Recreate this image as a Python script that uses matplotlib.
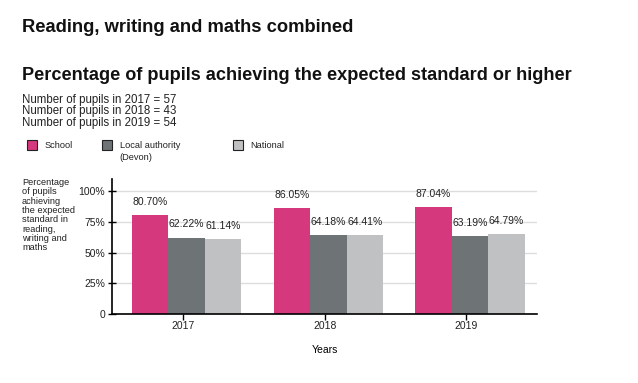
import matplotlib
matplotlib.use("Agg")
import matplotlib.pyplot as plt
from matplotlib.patches import Rectangle
import numpy as np

plt.rcParams['font.family'] = ['Liberation Sans', 'DejaVu Sans']

years = ["2017", "2018", "2019"]
series_names = ["School", "Local authority", "National"]
series_sub = ["", "(Devon)", ""]
school = [80.70, 86.05, 87.04]
local_authority = [62.22, 64.18, 63.19]
national = [61.14, 64.41, 64.79]
series = [school, local_authority, national]
colors = ["#d6387e", "#6e7375", "#c0c1c2"]
pupils = [57, 43, 54]
yticks = [0, 25, 50, 75, 100]
ytick_labels = ["0", "25%", "50%", "75%", "100%"]

W, H = 638, 383
fig = plt.figure(figsize=(W / 100, H / 100), dpi=100)

def fx(px):
    return px / W

def fy(py):
    return 1 - py / H

ax = fig.add_axes([fx(112), fy(314), fx(537) - fx(112), fy(179) - fy(314)])

x = np.arange(len(years))
bw = 0.2575
for i, (vals, col) in enumerate(zip(series, colors)):
    pos = x + (i - 1) * bw
    ax.bar(pos, vals, width=bw, color=col, zorder=2)
    for p, v in zip(pos, vals):
        ax.annotate(f"{v:.2f}%", (p, v), xytext=(0, 6.0), textcoords="offset points",
                    ha="center", va="bottom", fontsize=7.5, color="#222222")

ax.set_xlim(-0.526, 2.473)
ax.set_ylim(0, 110)
ax.set_yticks(yticks)
ax.set_yticklabels(ytick_labels, fontsize=7.5)
ax.set_xticks(x - 0.025)
ax.set_xticklabels(years, fontsize=7.5)
ax.yaxis.grid(True, color="#dddddd", linewidth=1, zorder=0)
ax.set_axisbelow(True)
for s in ["top", "right"]:
    ax.spines[s].set_visible(False)
ax.spines["left"].set_linewidth(1.2)
ax.spines["bottom"].set_linewidth(1.2)
ax.tick_params(axis="y", direction="inout", length=6, width=1, pad=2, colors="#000000", labelcolor="#222222")
ax.tick_params(axis="x", direction="out", length=4, width=1, pad=1, labelcolor="#222222")
ax.set_xlabel("Years", fontsize=7.5, labelpad=10)

# titles
fig.text(fx(22), fy(27), "Reading, writing and maths combined", fontsize=13.2, fontweight="bold",
         va="center", ha="left", color="#111111")
fig.text(fx(22), fy(75), "Percentage of pupils achieving the expected standard or higher", fontsize=13.1,
         fontweight="bold", va="center", ha="left", color="#111111")
for k, (yr, n) in enumerate(zip(years, pupils)):
    fig.text(fx(22), fy(100 + 11.3 * k), f"Number of pupils in {yr} = {n}", fontsize=8.3,
             va="center", ha="left", color="#222222")

# legend
leg_x = [26.7, 101.7, 232.7]
for lx, name, sub, col in zip(leg_x, series_names, series_sub, colors):
    fig.add_artist(Rectangle((fx(lx), fy(150)), fx(10), 10 / H, transform=fig.transFigure,
                             facecolor=col, edgecolor="#222222", linewidth=0.8))
    fig.text(fx(lx + 18), fy(145), name, fontsize=6.7, va="center", ha="left", color="#222222")
    if sub:
        fig.text(fx(lx + 18), fy(157.5), sub, fontsize=6.7, va="center", ha="left", color="#222222")

# y axis label
fig.text(fx(22), fy(178), "Percentage\nof pupils\nachieving\nthe expected\nstandard in\nreading,\nwriting and\nmaths",
         fontsize=6.7, va="top", ha="left", color="#222222", linespacing=1.05)

fig.savefig("out.png", dpi=100)
